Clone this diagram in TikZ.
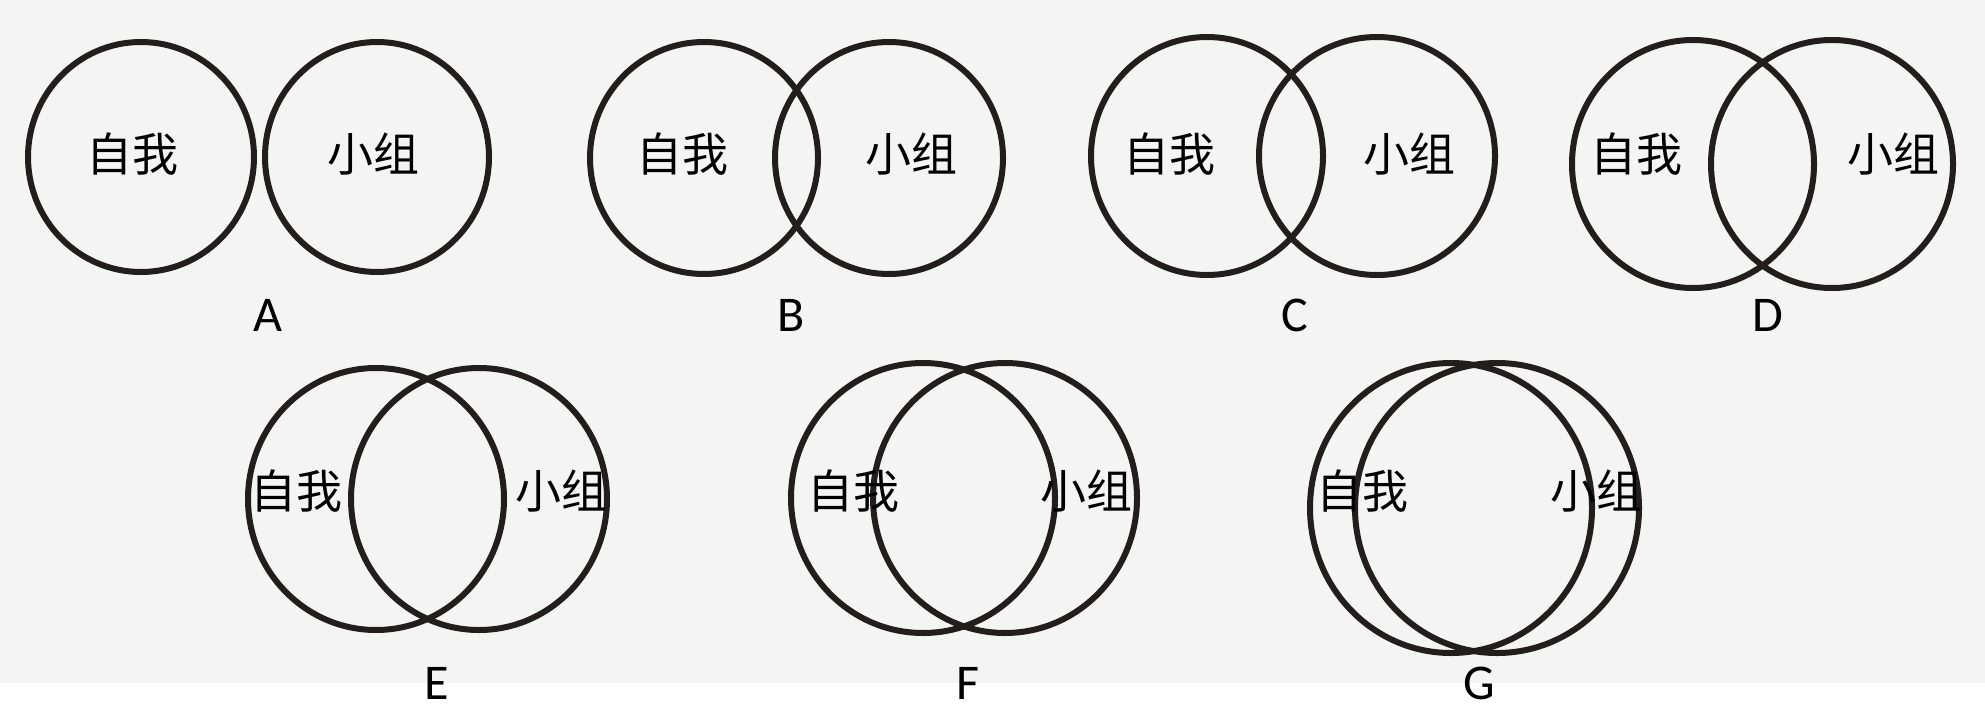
\documentclass[tikz,border=0pt]{standalone}
\usepackage{fontspec}
\setmainfont{Carlito}
\newfontfamily\cjk{Noto Sans CJK SC}
\definecolor{bg}{HTML}{F4F4F4}
\definecolor{ink}{HTML}{231E1E}
\begin{document}
\begin{tikzpicture}[x=1pt,y=-1pt]
\tikzset{
  ring/.style={draw=ink, line width=6pt},
  cn/.style={font=\cjk\fontsize{46}{46}\selectfont, inner sep=0pt, text=black},
  lab/.style={font=\fontsize{50}{50}\selectfont, inner sep=0pt, text=black}
}
\fill[white] (0,0) rectangle (1985,723);
\fill[bg] (0,0) rectangle (1985,683);
\useasboundingbox (0,0) rectangle (1985,723);
% A
\draw[ring] (141,157) ellipse [x radius=113, y radius=115];
\draw[ring] (377,157) ellipse [x radius=112, y radius=115];
\node[cn] (a1) at (132,154) {自我};
\node[cn] (a2) at (373,154) {小组};
\node[lab] (la) at (268,315) {A};
% B
\draw[ring] (704,158) ellipse [x radius=114, y radius=116];
\draw[ring] (889,158) ellipse [x radius=114, y radius=116];
\node[cn] (b1) at (682,154) {自我};
\node[cn] (b2) at (911,154) {小组};
\node[lab] (lb) at (791,315) {B};
% C
\draw[ring] (1207,156) ellipse [x radius=116, y radius=119];
\draw[ring] (1377,156) ellipse [x radius=118, y radius=119];
\node[cn] (c1) at (1169,154) {自我};
\node[cn] (c2) at (1409,154) {小组};
\node[lab] (lc) at (1295,315) {C};
% D
\draw[ring] (1693,164) ellipse [x radius=121, y radius=124];
\draw[ring] (1832,164) ellipse [x radius=121, y radius=124];
\node[cn] (d1) at (1636,154) {自我};
\node[cn] (d2) at (1893,154) {小组};
\node[lab] (ld) at (1768,315) {D};
% E
\draw[ring] (376,499) ellipse [x radius=128, y radius=131];
\draw[ring] (479,499) ellipse [x radius=128, y radius=131];
\node[cn] (e1) at (296,491) {自我};
\node[cn] (e2) at (561,491) {小组};
\node[lab] (le) at (437,683) {E};
% F
\draw[ring] (923,498) ellipse [x radius=132, y radius=135];
\draw[ring] (1005,498) ellipse [x radius=132, y radius=135];
\node[cn] (f1) at (853,491) {自我};
\node[cn] (f2) at (1086,491) {小组};
\node[lab] (lf) at (968,683) {F};
% G
\draw[ring] (1451,508) ellipse [x radius=141, y radius=145];
\draw[ring] (1497,508) ellipse [x radius=142, y radius=145];
\node[cn] (g1) at (1362,491) {自我};
\node[cn] (g2) at (1596,491) {小组};
\node[lab] (lg) at (1479,683) {G};
\end{tikzpicture}
\end{document}
